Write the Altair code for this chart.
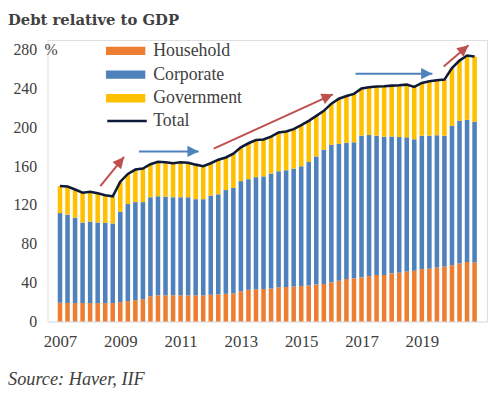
import math
import altair as alt
import pandas as pd

# ---- data (% of GDP, quarterly 2007Q1..2020Q4) ----
household = [19.3, 19, 19, 19, 19, 19, 19, 19, 20, 21, 22, 23, 26, 27, 27, 27, 27, 27, 27, 27,
             27.5, 28, 28.5, 29, 31, 32.6, 33, 33.5, 34, 35.3, 35.5, 36, 36.5, 37, 38, 38.7,
             40.4, 42, 43.8, 44.5, 45.5, 46.8, 47.9, 47.9, 49.6, 50.6, 51.6, 52.3, 54, 54.7,
             55.7, 56.7, 58, 60, 61.4, 60.8]
corporate = [92.4, 91, 88, 83, 84, 83, 82.5, 82, 93, 100, 101, 100, 102, 102, 101.6, 101, 101,
             101, 99, 99, 102.1, 103, 106.9, 108.5, 113.6, 114, 115.7, 116, 118.4, 119.5, 120.3,
             121.5, 123.4, 127.3, 132, 138.2, 141.6, 141, 140.2, 140.1, 145.9, 145.2, 143.5,
             142.5, 141.1, 139.4, 138.1, 135.4, 137.4, 136.7, 136.1, 134.7, 143.6, 146.7,
             146.3, 144.9]
government = [27.8, 29, 29, 30.7, 30.7, 30, 28.5, 28, 31, 31, 33.5, 34.5, 34, 35.5, 35.4, 35,
              36, 35.5, 35.6, 34, 33.4, 35.7, 33.6, 35.3, 34.9, 37, 38.3, 38, 38, 40, 40, 40.7,
              42.4, 42.4, 41.8, 40.1, 42.4, 46.5, 48.2, 49.9, 48.6, 49.3, 50.6, 52, 52.3, 53.4,
              54.3, 54, 54.4, 56.1, 56.7, 57.8, 59.4, 62.1, 66.3, 67.2]
series_names = ["Household", "Corporate", "Government"]
series_colors = ["#ED7D31", "#4F81BD", "#FFC000"]
first_year = 2007
year_ticks = [0, 8, 16, 24, 32, 40, 48]          # quarter index of 2007, 2009, ... 2019
y_ticks = [0, 40, 80, 120, 160, 200, 240, 280]

# annotation arrows: (start quarter, start value, tip quarter, tip value, kind)
arrow_x0 = [5.35, 10.47, 20.4, 39.2, 50.9]
arrow_y0 = [139.5, 175.2, 178, 255.3, 262.7]
arrow_x1 = [8.5, 18.4, 36.2, 49.4, 54.2]
arrow_y1 = [169.5, 175.2, 234, 255.3, 284.5]
arrow_kind = ["red", "blue", "red", "blue", "red"]

# ---- layout / styles ----
W, H = 445, 285
XDOM = [-1, 56]
YDOM = [0, 290]
FONT = "Liberation Serif"
TXT = "#404040"
RED = "#C0504D"
BLUE = "#4F81BD"
NAVY = "#0E1A38"

n = len(household)
rows = []
for i in range(n):
    for k, (name, vals) in enumerate(zip(series_names, [household, corporate, government])):
        rows.append({"q": i, "series": name, "value": vals[i], "ord": k})
bars_df = pd.DataFrame(rows)
total_df = pd.DataFrame({"q": list(range(n)),
                         "total": [household[i] + corporate[i] + government[i] for i in range(n)],
                         "name": ["Total"] * n})

kx = W / (XDOM[1] - XDOM[0])
ky = H / (YDOM[1] - YDOM[0])
angles = []
for x0, y0, x1, y1 in zip(arrow_x0, arrow_y0, arrow_x1, arrow_y1):
    dx = (x1 - x0) * kx
    dy = -(y1 - y0) * ky
    angles.append(math.degrees(math.atan2(dx, -dy)) % 360)
arrows_df = pd.DataFrame({"x0": arrow_x0, "y0": arrow_y0, "x1": arrow_x1, "y1": arrow_y1,
                          "kind": arrow_kind, "ang": angles})

xscale = alt.Scale(domain=XDOM, nice=False, zero=False)
yscale = alt.Scale(domain=YDOM, nice=False)

x_axis = alt.Axis(values=year_ticks, labelExpr=f"toString({first_year} + datum.value / 4)",
                  title=None, ticks=False, grid=False, domain=True, domainColor="#E4E9F1",
                  domainWidth=1.5, labelFont=FONT, labelFontSize=17, labelColor=TXT,
                  labelPadding=12, labelBaseline="top")
y_axis = alt.Axis(values=y_ticks, title=None, ticks=False, grid=False, domain=False,
                  labelFont=FONT, labelFontSize=16, labelColor=TXT, labelPadding=11)

bars = alt.Chart(bars_df).mark_bar(size=4.6).encode(
    x=alt.X("q:Q", scale=xscale, axis=x_axis),
    y=alt.Y("value:Q", stack="zero", scale=yscale, axis=y_axis),
    color=alt.Color("series:N",
                    scale=alt.Scale(domain=series_names, range=series_colors),
                    legend=alt.Legend(title=None, orient="none", legendX=59, legendY=1,
                                      symbolType="M-1,-0.21L1,-0.21L1,0.21L-1,0.21Z",
                                      symbolSize=1600, symbolStrokeWidth=0, symbolOpacity=1,
                                      clipHeight=20, rowPadding=4, labelOffset=8,
                                      labelFont=FONT, labelFontSize=18, labelColor=TXT,
                                      padding=0)),
    order=alt.Order("ord:Q", sort="ascending"),
)

line = alt.Chart(total_df).mark_line(strokeWidth=2.6).encode(
    x=alt.X("q:Q", scale=xscale),
    y=alt.Y("total:Q", scale=yscale),
    stroke=alt.Stroke("name:N", scale=alt.Scale(domain=["Total"], range=[NAVY]),
                      legend=alt.Legend(title=None, orient="none", legendX=59, legendY=72,
                                        symbolType="stroke", symbolSize=1600,
                                        symbolStrokeWidth=2.5, clipHeight=20, labelOffset=5,
                                        labelFont=FONT, labelFontSize=18, labelColor=TXT,
                                        padding=0)),
)

head_path = "M0,0L0.5,1L-0.5,1Z"
arrow_layers = []
for kind, col in [("red", RED), ("blue", BLUE)]:
    base = alt.Chart(arrows_df).transform_filter(alt.datum.kind == kind)
    shaft = base.mark_rule(color=col, strokeWidth=2).encode(
        x=alt.X("x0:Q", scale=xscale), y=alt.Y("y0:Q", scale=yscale),
        x2="x1:Q", y2="y1:Q")
    head = base.mark_point(shape=head_path, filled=True, color=col, opacity=1,
                           size=520, strokeWidth=0).encode(
        x=alt.X("x1:Q", scale=xscale), y=alt.Y("y1:Q", scale=yscale),
        angle=alt.Angle("ang:Q", scale=None))
    arrow_layers += [shaft, head]

title = alt.Chart(pd.DataFrame({"t": ["Debt relative to GDP"]})).mark_text(
    align="left", baseline="alphabetic", font="DejaVu Serif", fontSize=15, fontWeight="bold",
    color=TXT).encode(x=alt.value(-40), y=alt.value(-15), text="t:N")
source = alt.Chart(pd.DataFrame({"t": ["Source: Haver, IIF"]})).mark_text(
    align="left", baseline="alphabetic", font=FONT, fontSize=18.5, fontStyle="italic",
    color=TXT).encode(x=alt.value(-40), y=alt.value(349), text="t:N")
pct = alt.Chart(pd.DataFrame({"t": ["%"]})).mark_text(
    align="left", baseline="middle", font=FONT, fontSize=16, color=TXT).encode(
    x=alt.value(-3), y=alt.Y("v:Q", scale=yscale), text="t:N").transform_calculate(v="280")

chart = alt.layer(bars, line, *arrow_layers, title, source, pct).resolve_scale(
    color="independent").properties(
    width=W, height=H,
    autosize=alt.AutoSizeParams(type="none"),
    padding={"left": 40, "top": 30, "right": 5, "bottom": 70},
).configure_view(stroke=None).configure(background="white")

chart.save("out.html", embed_options={"renderer": "svg", "actions": False})
